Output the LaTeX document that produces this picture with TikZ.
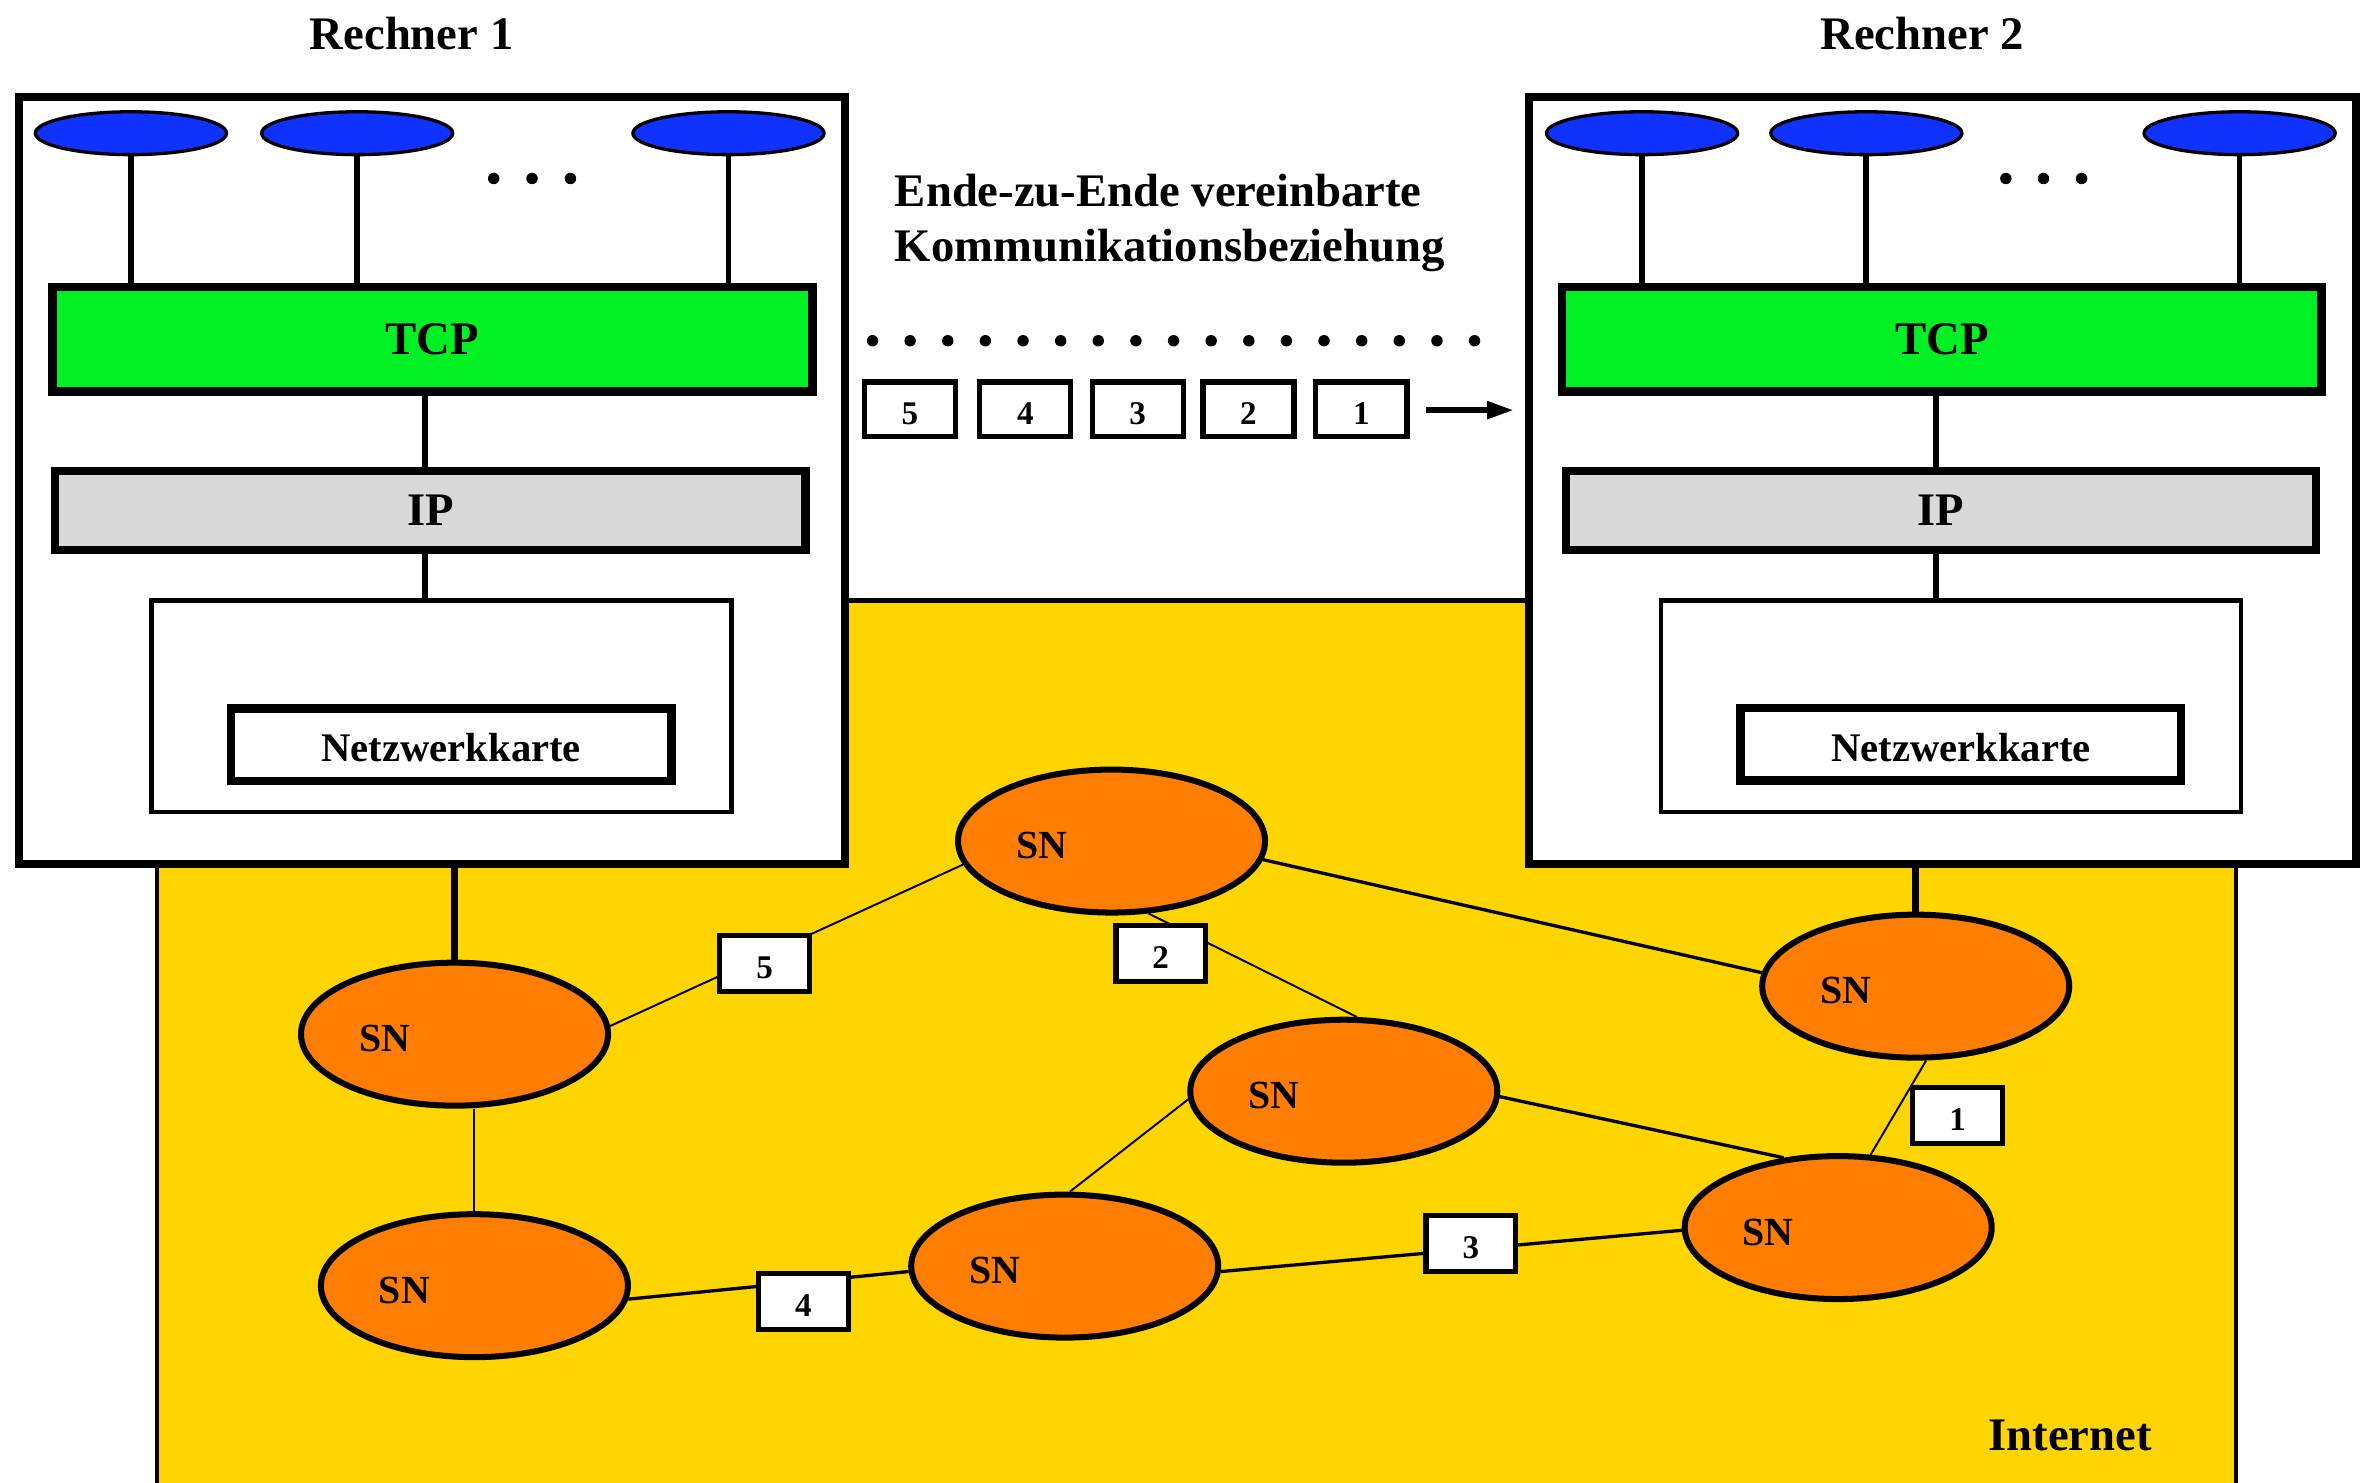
\documentclass[tikz,border=0pt]{standalone}
\usepackage{fontspec}
\setmainfont{Liberation Serif}
\usetikzlibrary{shapes.geometric,arrows.meta,calc}
\definecolor{appblue}{RGB}{15,50,255}
\definecolor{tcpgreen}{RGB}{0,240,35}
\definecolor{ipgray}{RGB}{217,217,217}
\definecolor{netyellow}{RGB}{255,213,0}
\definecolor{snorange}{RGB}{255,125,0}
\begin{document}
\begin{tikzpicture}[x=1pt,y=-1pt,
  bigfont/.style={font=\fontsize{31}{36.6}\selectfont\bfseries},
  computer/.style={draw,fill=white,line width=5.3pt,minimum height=510pt,inner sep=0pt},
  app/.style={ellipse,draw,fill=appblue,line width=2.2pt,minimum width=127pt,minimum height=28.5pt,inner sep=0pt},
  tcpbox/.style={draw,fill=tcpgreen,line width=5.8pt,minimum width=504.7pt,minimum height=69.3pt,inner sep=0pt,bigfont},
  ipbox/.style={draw,fill=ipgray,line width=5.5pt,minimum width=498.5pt,minimum height=52.5pt,inner sep=0pt,bigfont},
  niccont/.style={draw,fill=white,line width=3pt,minimum width=385.3pt,minimum height=140.3pt,inner sep=0pt},
  nicbox/.style={draw,fill=white,line width=5.7pt,minimum width=292.5pt,minimum height=48.2pt,inner sep=0pt,
    text height=22.6pt,text depth=0pt,font=\fontsize{27}{30}\selectfont\bfseries},
  sn/.style={ellipse,draw,fill=snorange,line width=4pt,minimum width=204pt,minimum height=95pt,inner sep=0pt,
    label={[font=\fontsize{26.5}{30}\selectfont\bfseries,xshift=-46.5pt,yshift=-3pt,inner sep=0pt]center:SN}},
  pkt/.style={draw,fill=white,line width=3.4pt,minimum width=59.5pt,minimum height=37pt,inner sep=0pt,
    text height=20pt,text depth=0pt,font=\fontsize{22}{24}\selectfont\bfseries},
  inline/.style={line width=3.8pt},
  boxline/.style={line width=4.3pt},
  thinline/.style={line width=1.3pt},
  midline/.style={line width=2.2pt},
  dotmark/.style={fill=black}
]
\useasboundingbox (0,0) rectangle (1568,985);

% Internet region
\draw[line width=3pt,fill=netyellow] (104.2,399) rectangle (1485.5,1000);
\node[bigfont,anchor=base] (inet) at (1375.4,963.6) {Internet};

% titles
\node[bigfont,anchor=base] (r1) at (273.5,33.2) {Rechner 1};
\node[bigfont,anchor=base] (r2) at (1277,33.2) {Rechner 2};

% Rechner 1
\node[computer,minimum width=548.6pt] (pc1) at (287,319.2) {};
\node[app] (a11) at (87,88.5) {};
\node[app] (a12) at (237.3,88.5) {};
\node[app] (a13) at (484,88.5) {};
\node[tcpbox] (tcp1) at (287.25,225.4) {TCP};
\node[ipbox] (ip1) at (286,339) {IP};
\node[niccont] (nic1) at (293.4,469.2) {};
\node[nicbox] (nk1) at (299.8,494.7) {Netzwerkkarte};
\coordinate (v1) at (282.4,0);
\draw[inline] (a11.south) -- (a11.south |- tcp1.north);
\draw[inline] (a12.south) -- (a12.south |- tcp1.north);
\draw[inline] (a13.south) -- (a13.south |- tcp1.north);
\draw[inline] (tcp1.south -| v1) -- (ip1.north -| v1);
\draw[inline] (ip1.south -| v1) -- (nic1.north -| v1);
\foreach \x in {328,353.5,379} \fill[dotmark] (\x,118.6) circle (3.8);

% Rechner 2
\node[computer,minimum width=549.5pt] (pc2) at (1290.6,319.2) {};
\node[app] (a21) at (1091,88.5) {};
\node[app] (a22) at (1240,88.5) {};
\node[app] (a23) at (1488,88.5) {};
\node[tcpbox] (tcp2) at (1290.2,225.4) {TCP};
\node[ipbox] (ip2) at (1289.5,339) {IP};
\node[niccont] (nic2) at (1296.3,469.2) {};
\node[nicbox] (nk2) at (1302.8,494.6) {Netzwerkkarte};
\coordinate (v2) at (1286.1,0);
\draw[inline] (a21.south) -- (a21.south |- tcp2.north);
\draw[inline] (a22.south) -- (a22.south |- tcp2.north);
\draw[inline] (a23.south) -- (a23.south |- tcp2.north);
\draw[inline] (tcp2.south -| v2) -- (ip2.north -| v2);
\draw[inline] (ip2.south -| v2) -- (nic2.north -| v2);
\foreach \x in {1332.7,1357.7,1383} \fill[dotmark] (\x,118.6) circle (3.8);

% end-to-end text, dots, packets, arrow
\node[bigfont,anchor=base west,align=left,inner sep=0pt] (e2e) at (594.4,173.9)
  {Ende-zu-Ende vereinbarte\\Kommunikationsbeziehung};
\foreach \i in {0,...,16} \fill[dotmark] ({579.7+25*\i},226.4) circle (3.8);
\node[pkt,minimum width=60.5pt,minimum height=36.2pt,line width=3.5pt] (t5) at (604.5,271.9) {5};
\node[pkt,minimum width=60.5pt,minimum height=36.2pt,line width=3.5pt] (t4) at (681.2,271.9) {4};
\node[pkt,minimum width=60.5pt,minimum height=36.2pt,line width=3.5pt] (t3) at (755.9,271.9) {3};
\node[pkt,minimum width=60.5pt,minimum height=36.2pt,line width=3.5pt] (t2) at (829.5,271.9) {2};
\node[pkt,minimum width=60.5pt,minimum height=36.2pt,line width=3.5pt] (t1) at (904.5,271.9) {1};
\coordinate (arrS) at (947.3,272.5);
\coordinate (arrE) at (1006,272.5);
\draw[line width=4.2pt,-{Triangle[length=18pt,width=11pt]}] (arrS) -- (arrE);

% switching nodes
\node[sn] (sna) at (302,687.1) {};
\node[sn] (snb) at (315.2,854.2) {};
\node[sn] (snc) at (738.5,558.8) {};
\node[sn] (snd) at (892.8,725) {};
\node[sn] (sne) at (707.4,841.2) {};
\node[sn] (snf) at (1272.8,655.2) {};
\node[sn] (sng) at (1221.3,815.6) {};

% connections
\draw[boxline] (sna.north |- pc1.south) -- (sna.north);
\draw[boxline] (snf.north |- pc2.south) -- (snf.north);
\draw[thinline] (snb.north |- sna.south) -- (snb.north);
\draw[thinline] (sna.3) -- (snc.189);
\draw[thinline] (snc.297) -- (snd.80);
\draw[midline] (snc.353) -- (snf.175);
\draw[thinline] (snd.183) -- (sne.86);
\draw[midline] (snd.358) -- (sng.128);
\draw[thinline] (snf.278) -- (sng.66);
\draw[midline] (snb.355) -- (sne.182);
\draw[midline] (sne.358) -- (sng.181);

% packets in the network
\node[pkt] (p5) at (508,640.3) {5};
\node[pkt] (p2) at (771.2,633.5) {2};
\node[pkt] (p1) at (1300.7,741.2) {1};
\node[pkt] (p4) at (533.8,864.6) {4};
\node[pkt] (p3) at (977.2,826.2) {3};
\end{tikzpicture}
\end{document}
